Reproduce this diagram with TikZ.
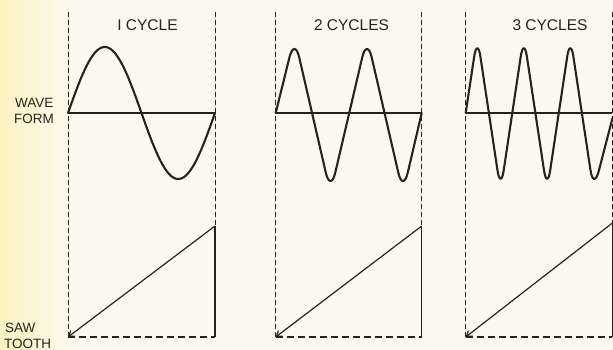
\documentclass[tikz,border=0pt]{standalone}
\usepackage{fontspec}
\setmainfont{Liberation Sans}
\usetikzlibrary{arrows.meta}
\definecolor{ink}{HTML}{24241A}
\definecolor{paper}{HTML}{FBFAF0}
\definecolor{paperyel}{HTML}{FCF2C2}
\begin{document}
\begin{tikzpicture}[x=1pt,y=-1pt,
  guide/.style={draw=ink,line width=0.9pt,dash pattern=on 5pt off 3pt},
  base/.style={draw=ink,line width=1.2pt,dash pattern=on 7pt off 4pt},
  axisline/.style={draw=ink,line width=1.4pt},
  wave/.style={draw=ink,line width=2.1pt,line join=round,line cap=round},
  tri/.style={wave,rounded corners=21pt},
  ramp/.style={draw=ink,line width=1.2pt},
  fly/.style={draw=ink,line width=1.4pt},
  title/.style={font=\fontsize{15.5}{16}\selectfont,text=ink,inner sep=0pt},
  lab/.style={font=\fontsize{13.5}{14}\selectfont,text=ink,inner sep=0pt,anchor=west}]
\useasboundingbox (0,0) rectangle (613,350);
\fill[paper] (0,0) rectangle (613,350);
\shade[left color=paperyel,right color=paper] (0,0) rectangle (75,350);

% labels
\node[lab] (wave) at (15,103) {WAVE};
\node[lab] (form) at (14,119) {FORM};
\node[lab] (saw) at (5,328) {SAW};
\node[lab] (tooth) at (4,343.5) {TOOTH};

% titles
\node[title] (t1) at (147.5,25) {I CYCLE};
\node[title] (t2) at (351.5,25) {2 CYCLES};
\node[title] (t3) at (550,25) {3 CYCLES};

% panels
\foreach \n/\l/\r/\s in {a/68/215/226, b/275.7/421.7/226, c/465.7/612.4/223}{
  \coordinate (\n tl) at (\l,12);
  \coordinate (\n tr) at (\r,12);
  \coordinate (\n bl) at (\l,337);
  \coordinate (\n br) at (\r,337);
  \coordinate (\n st) at (\r,\s);
  \coordinate (\n al) at (\l,113);
  \coordinate (\n ar) at (\r,113);
  \path[guide] (\n tl) -- (\n bl);
  \path[guide] (\n tr) -- (\n st);
  \path[fly] (\n st) -- (\n br);
  \path[base] (\n bl) -- (\n br);
  \path[axisline] (\n al) -- (\n ar);
  \path[ramp,{Straight Barb[length=5pt,width=7pt]}-] (\n bl) -- (\n st);
}

% waveforms
\path[wave] plot[domain=0:360,samples=120,smooth] ({68+\x/360*147},{113-66*sin(\x)});
\path[tri] (275.7,113) -- (294.5,37) -- (330.5,193) -- (367.0,37) -- (403.0,193) -- (421.7,113);
\path[tri] (465.7,113) -- (477.3,36) -- (500.6,191) -- (523.8,36) -- (547.1,191)
  -- (570.3,36) -- (593.6,191) -- (612.5,118);
\end{tikzpicture}
\end{document}
